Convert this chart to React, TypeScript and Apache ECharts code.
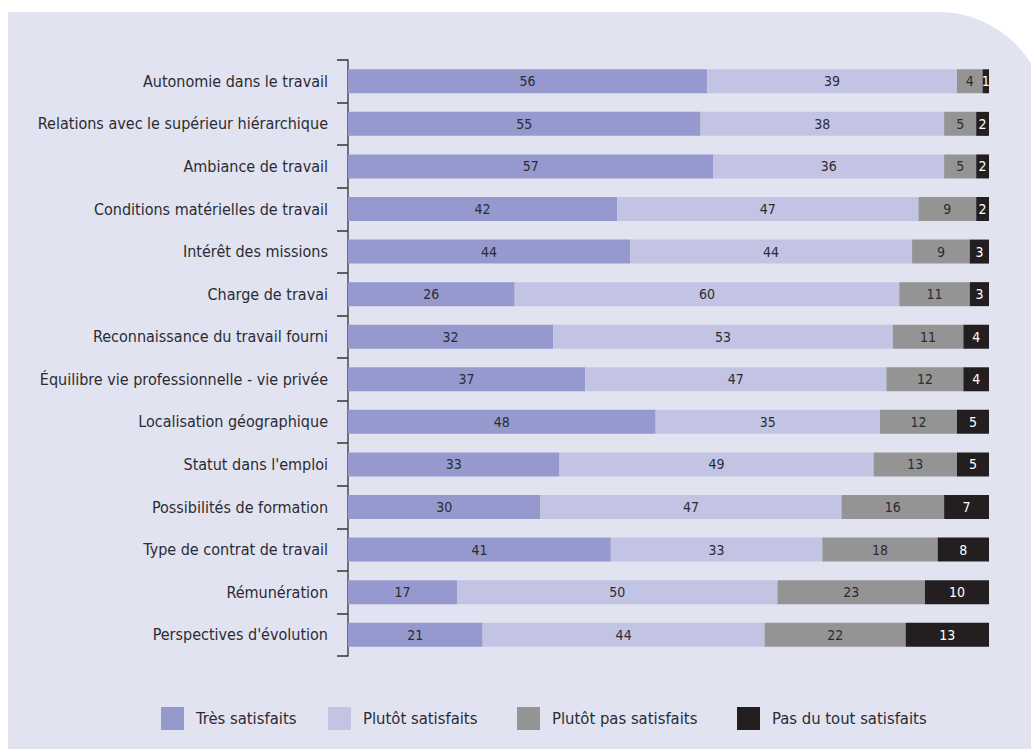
import React, { useEffect, useRef } from "react";
import * as echarts from "echarts";

const categories = [
  "Autonomie dans le travail",
  "Relations avec le supérieur hiérarchique",
  "Ambiance de travail",
  "Conditions matérielles de travail",
  "Intérêt des missions",
  "Charge de travai",
  "Reconnaissance du travail fourni",
  "Équilibre vie professionnelle - vie privée",
  "Localisation géographique",
  "Statut dans l'emploi",
  "Possibilités de formation",
  "Type de contrat de travail",
  "Rémunération",
  "Perspectives d'évolution",
];

const tresSatisfaits = [56, 55, 57, 42, 44, 26, 32, 37, 48, 33, 30, 41, 17, 21];
const plutotSatisfaits = [39, 38, 36, 47, 44, 60, 53, 47, 35, 49, 47, 33, 50, 44];
const plutotPasSatisfaits = [4, 5, 5, 9, 9, 11, 11, 12, 12, 13, 16, 18, 23, 22];
const pasDuToutSatisfaits = [1, 2, 2, 2, 3, 3, 4, 4, 5, 5, 7, 8, 10, 13];

const seriesNames = [
  "Très satisfaits",
  "Plutôt satisfaits",
  "Plutôt pas satisfaits",
  "Pas du tout satisfaits",
];
const colors = ["#9599cd", "#c3c4e3", "#949494", "#231f20"];
const labelColors = ["#2b2b33", "#2b2b33", "#2b2b33", "#ffffff"];
const legendLefts = [156, 323, 512, 732];
const FONT = "'DejaVu Sans Condensed', 'Liberation Sans Narrow', 'DejaVu Sans', sans-serif";

export default function App() {
  const ref = useRef<HTMLDivElement>(null);
  useEffect(() => {
    if (!ref.current) return;
    const chart = echarts.init(ref.current, undefined, { renderer: "svg" });
    const data = [tresSatisfaits, plutotSatisfaits, plutotPasSatisfaits, pasDuToutSatisfaits];
    chart.setOption({
      animation: false,
      backgroundColor: "#ffffff",
      graphic: [
        {
          type: "rect",
          z: -10,
          silent: true,
          shape: { x: 8, y: 12, width: 1040, height: 800, r: [0, 110, 0, 0] },
          style: { fill: "#e2e3f1" },
        },
      ],
      grid: { left: 348, right: 42, top: 60, height: 596, containLabel: false },
      xAxis: {
        type: "value",
        min: 0,
        max: 100,
        show: false,
      },
      yAxis: {
        type: "category",
        data: categories,
        inverse: true,
        axisLine: { show: true, lineStyle: { color: "#4a4a4a", width: 1.5 } },
        axisTick: { show: true, length: 11, lineStyle: { color: "#333", width: 1.5 } },
        axisLabel: {
          margin: 20,
          color: "#2b2b33",
          fontSize: 16,
          fontFamily: FONT,
        },
        splitLine: { show: false },
      },
      legend: seriesNames.map((name, i) => ({
        left: legendLefts[i],
        top: 702,
        itemWidth: 23,
        itemHeight: 23,
        icon: "rect",
        textStyle: { fontSize: 16.5, color: "#2b2b33", fontFamily: FONT, padding: [0, 0, 0, 7] },
        data: [name],
      })),
      series: seriesNames.map((name, i) => ({
        name,
        type: "bar",
        stack: "total",
        data: data[i],
        barWidth: 24,
        itemStyle: { color: colors[i] },
        label: {
          show: true,
          position: "inside",
          color: labelColors[i],
          fontSize: 14,
          fontFamily: FONT,
        },
      })),
    });
    return () => chart.dispose();
  }, []);
  return (
    <div
      ref={ref}
      style={{ position: "fixed", left: 0, top: 0, width: 1031, height: 749 }}
    />
  );
}
